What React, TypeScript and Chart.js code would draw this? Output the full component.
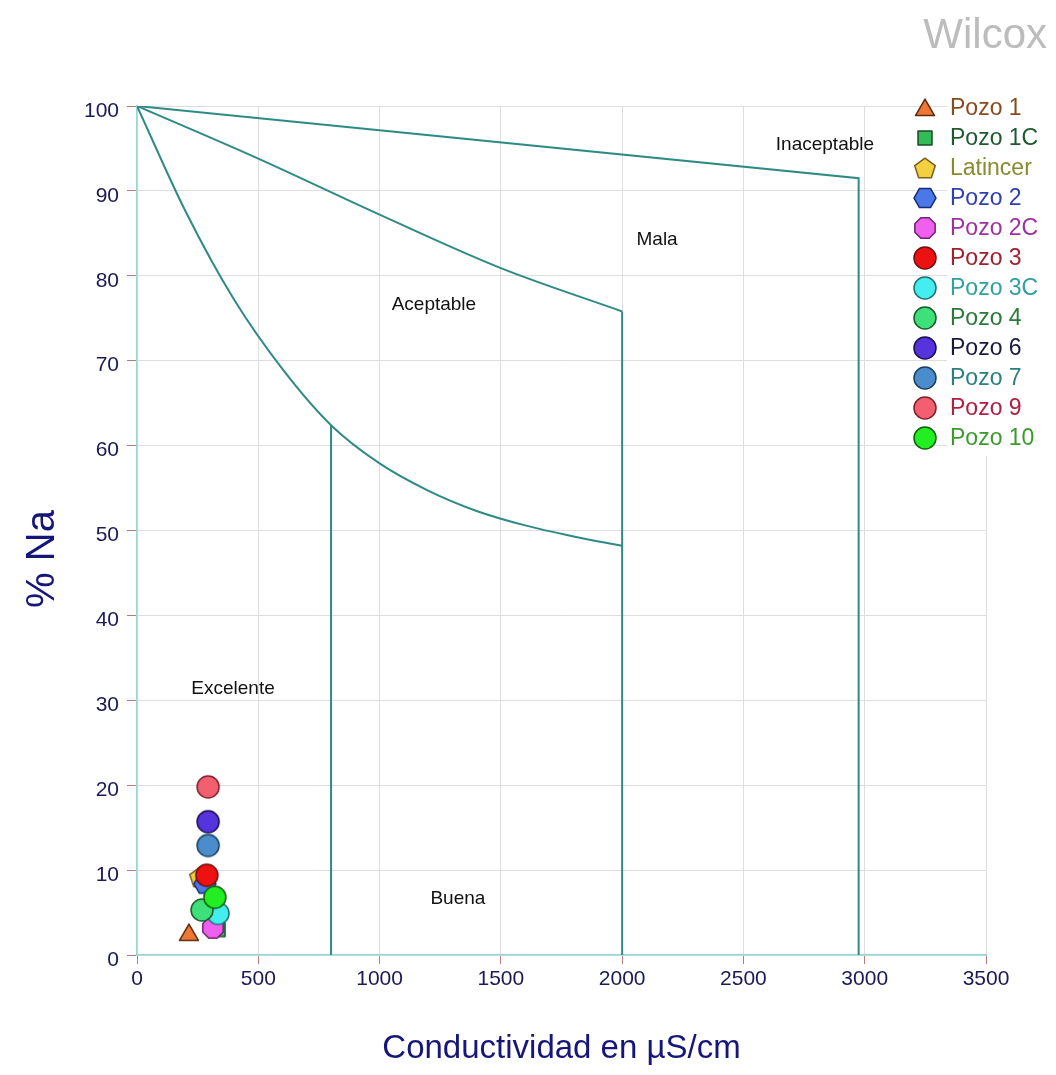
import React, { useEffect, useRef } from "react";
import { Chart, registerables } from "chart.js";

Chart.register(...registerables);

// ---- Data ----
const seriesNames = ["Pozo 1", "Pozo 1C", "Latincer", "Pozo 2", "Pozo 2C", "Pozo 3", "Pozo 3C", "Pozo 4", "Pozo 6", "Pozo 7", "Pozo 9", "Pozo 10"];
const conductividad = [214, 334, 260, 280, 313, 288, 334, 268, 293, 293, 293, 321];
const porcentajeNa = [2.6, 3.0, 9.2, 8.4, 3.2, 9.4, 4.9, 5.3, 15.7, 12.9, 19.8, 6.8];

// Wilcox class boundaries
const boundaryInaceptableX = [0, 2975, 2975];
const boundaryInaceptableY = [100, 91.5, 0];
const boundaryMalaX = [0, 500, 1000, 1500, 2000];
const boundaryMalaY = [100, 93.8, 87.2, 80.9, 75.8];
const boundaryMalaVertX = [2000, 2000];
const boundaryMalaVertY = [75.8, 0];
const boundaryAceptableX = [0, 200, 400, 600, 800, 1000, 1200, 1400, 1600, 1800, 2000];
const boundaryAceptableY = [100, 87.6, 77.2, 69.0, 62.4, 57.9, 54.7, 52.3, 50.6, 49.3, 48.2];
const boundaryBuenaX = [800, 800];
const boundaryBuenaY = [62.4, 0];

const regionLabels = ["Inaceptable", "Mala", "Aceptable", "Excelente", "Buena"];
const regionLabelX = [2836, 2144, 1224, 396, 1323];
const regionLabelY = [95.4, 84.3, 76.6, 31.4, 6.6];

const xTickStep = 500;
const yTickStep = 10;

// ---- Styles ----
const markerShapes = ["triangle", "square", "pentagon", "hexagon", "octagon", "circle", "circle", "circle", "circle", "circle", "circle", "circle"];
const markerFill = ["#ee7733", "#33bb55", "#f2d040", "#4a78e8", "#f060ee", "#ee1111", "#44eeee", "#3ee07a", "#5533dd", "#4a8ccc", "#f26070", "#22ee22"];
const markerStroke = ["#5a2a10", "#1a4a2a", "#7a6020", "#1a2a7a", "#702070", "#701010", "#207070", "#1a5a2a", "#1a1050", "#1a4060", "#802030", "#106010"];
const legendTextColor = ["#8a4a20", "#1e5a30", "#8a8a30", "#3040b0", "#a030a0", "#a02030", "#30a0a0", "#2a7a3a", "#1a1a40", "#2a8080", "#b02040", "#3a9a2a"];

const FONT = '"Liberation Sans", Arial, Helvetica, sans-serif';
const lineColor = "#2f8a86";

function makeMarker(shape: string, fill: string, stroke: string): HTMLCanvasElement {
  const S = 26;
  const c = document.createElement("canvas");
  c.width = S;
  c.height = S;
  const ctx = c.getContext("2d")!;
  const cx = S / 2;
  const cy = S / 2;
  ctx.fillStyle = fill;
  ctx.strokeStyle = stroke;
  ctx.lineWidth = 1.5;
  ctx.lineJoin = "round";
  ctx.beginPath();
  const poly = (n: number, r: number, startAngle: number, oy = 0) => {
    for (let i = 0; i < n; i++) {
      const a = startAngle + (i * 2 * Math.PI) / n;
      const px = cx + r * Math.cos(a);
      const py = cy + oy + r * Math.sin(a);
      if (i === 0) ctx.moveTo(px, py);
      else ctx.lineTo(px, py);
    }
    ctx.closePath();
  };
  if (shape === "triangle") poly(3, 11, -Math.PI / 2, 2);
  else if (shape === "square") ctx.rect(cx - 7, cy - 7, 14, 14);
  else if (shape === "pentagon") poly(5, 10.8, -Math.PI / 2, 1);
  else if (shape === "hexagon") poly(6, 11, 0);
  else if (shape === "octagon") poly(8, 11, Math.PI / 8);
  else ctx.arc(cx, cy, 11, 0, Math.PI * 2);
  ctx.fill();
  ctx.stroke();
  return c;
}

function toPoints(xs: number[], ys: number[]) {
  return xs.map((x, i) => ({ x, y: ys[i] }));
}

export default function App() {
  const canvasRef = useRef<HTMLCanvasElement | null>(null);

  useEffect(() => {
    const canvas = canvasRef.current;
    if (!canvas) return;
    const markers = seriesNames.map((_, i) => makeMarker(markerShapes[i], markerFill[i], markerStroke[i]));

    const boundaryDs = (label: string, xs: number[], ys: number[], smooth: boolean) => ({
      label,
      data: toPoints(xs, ys),
      showLine: true,
      borderColor: lineColor,
      borderWidth: 2,
      pointRadius: 0,
      tension: smooth ? 0.4 : 0,
      cubicInterpolationMode: smooth ? "monotone" : "default",
      fill: false,
      order: 1000,
    });

    const pointDatasets = seriesNames.map((name, i) => ({
      label: name,
      data: [{ x: conductividad[i], y: porcentajeNa[i] }],
      pointStyle: markers[i],
      pointRadius: 11,
      showLine: false,
      order: 100 - i,
    }));

    const overlay = {
      id: "overlay",
      beforeDraw(chart: any) {
        const ctx = chart.ctx;
        ctx.save();
        ctx.fillStyle = "#ffffff";
        ctx.fillRect(0, 0, chart.width, chart.height);
        ctx.restore();
      },
      afterDraw(chart: any) {
        const ctx = chart.ctx;
        const xs = chart.scales.x;
        const ys = chart.scales.y;
        ctx.save();
        // region labels
        ctx.font = `19px ${FONT}`;
        ctx.fillStyle = "#111111";
        ctx.textAlign = "center";
        ctx.textBaseline = "middle";
        regionLabels.forEach((t, i) => {
          ctx.fillText(t, xs.getPixelForValue(regionLabelX[i]), ys.getPixelForValue(regionLabelY[i]));
        });
        // titles
        ctx.fillStyle = "#16167a";
        ctx.font = `33px ${FONT}`;
        ctx.textAlign = "center";
        ctx.textBaseline = "alphabetic";
        ctx.fillText("Conductividad en µS/cm", (chart.chartArea.left + chart.chartArea.right) / 2, 1058);
        ctx.save();
        ctx.translate(54, 559);
        ctx.rotate(-Math.PI / 2);
        ctx.font = `40px ${FONT}`;
        ctx.fillText("% Na", 0, 0);
        ctx.restore();
        ctx.fillStyle = "#bcbcbc";
        ctx.font = `42px ${FONT}`;
        ctx.textAlign = "right";
        ctx.fillText("Wilcox", 1047, 48);
        // legend
        ctx.fillStyle = "#ffffff";
        ctx.fillRect(947, 92, 109, 364);
        ctx.font = `23px ${FONT}`;
        ctx.textAlign = "left";
        ctx.textBaseline = "middle";
        seriesNames.forEach((name, i) => {
          const y = 108 + i * 30;
          const m = markers[i];
          ctx.drawImage(m, 925 - m.width / 2, y - m.height / 2);
          ctx.fillStyle = legendTextColor[i];
          ctx.fillText(name, 950, y + 1);
        });
        ctx.restore();
      },
    };

    const tickFont = { family: FONT, size: 21 };
    const chart = new Chart(canvas, {
      type: "scatter",
      data: {
        datasets: [
          boundaryDs("Inaceptable", boundaryInaceptableX, boundaryInaceptableY, false),
          boundaryDs("Mala", boundaryMalaX, boundaryMalaY, true),
          boundaryDs("Mala límite", boundaryMalaVertX, boundaryMalaVertY, false),
          boundaryDs("Aceptable", boundaryAceptableX, boundaryAceptableY, true),
          boundaryDs("Buena", boundaryBuenaX, boundaryBuenaY, false),
          ...pointDatasets,
        ] as any,
      },
      options: {
        responsive: false,
        animation: false,
        devicePixelRatio: 1,
        layout: { padding: { left: 0, top: 106, right: 70, bottom: 0 } },
        plugins: {
          legend: { display: false },
          tooltip: { enabled: false },
          title: { display: false },
        },
        scales: {
          x: {
            type: "linear",
            min: 0,
            max: 3500,
            afterFit: (s: any) => {
              s.height = 120;
            },
            ticks: {
              stepSize: xTickStep,
              color: "#1a1a55",
              font: tickFont,
              padding: 3,
              maxRotation: 0,
              callback: (v: any) => String(v),
            },
            grid: { color: "#dedede", tickColor: "#b87a7a", tickLength: 9, lineWidth: 1 },
            border: { color: "#98d6d6", width: 1.5 },
          },
          y: {
            type: "linear",
            min: 0,
            max: 100,
            afterFit: (s: any) => {
              s.width = 137;
            },
            ticks: {
              stepSize: yTickStep,
              color: "#1a1a55",
              font: tickFont,
              padding: 8,
              labelOffset: 5,
              callback: (v: any) => String(v),
            },
            grid: { color: "#dedede", tickColor: "#b87a7a", tickLength: 10, lineWidth: 1 },
            border: { color: "#98d6d6", width: 1.5 },
          },
        },
      } as any,
      plugins: [overlay],
    });
    return () => chart.destroy();
  }, []);

  return (
    <canvas
      ref={canvasRef}
      width={1056}
      height={1075}
      style={{ position: "absolute", left: 0, top: 0, width: 1056, height: 1075, display: "block" }}
    />
  );
}
